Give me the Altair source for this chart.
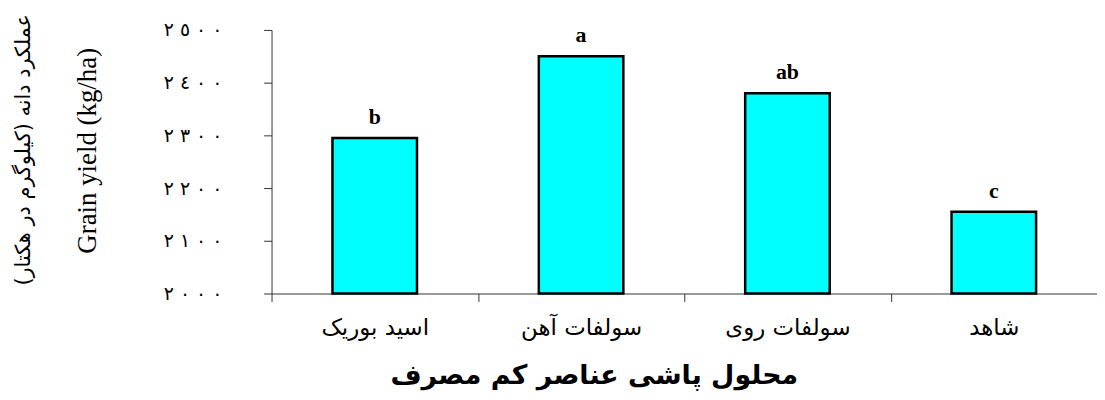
import altair as alt
import pandas as pd

treatments = ["اسید بوریک", "سولفات آهن", "سولفات روی", "شاهد"]
yields = [2295, 2450, 2380, 2155]
letters = ["b", "a", "ab", "c"]
y_ticks = [2000, 2100, 2200, 2300, 2400, 2500]
y_tick_labels = [
    "٢\u200e ٠\u200e ٠\u200e ٠",
    "٢\u200e ١\u200e ٠\u200e ٠",
    "٢\u200e ٢\u200e ٠\u200e ٠",
    "٢\u200e ٣\u200e ٠\u200e ٠",
    "٢\u200e ٤\u200e ٠\u200e ٠",
    "٢\u200e ٥\u200e ٠\u200e ٠",
]
y_base = 2000

df = pd.DataFrame({"treatment": treatments, "yield": yields, "letter": letters})

label_expr = (
    "[" + ",".join("'" + s + "'" for s in y_tick_labels) + "]"
    + "[indexof([" + ",".join(str(v) for v in y_ticks) + "], datum.value)]"
)

x_enc = alt.X(
    "treatment:N",
    sort=treatments,
    scale=alt.Scale(paddingInner=0, paddingOuter=0),
    axis=alt.Axis(
        title="محلول پاشی عناصر کم مصرف",
        labelAngle=0,
        tickBand="extent",
        tickSize=8,
        tickColor="#333333",
        domainColor="#333333",
        labelFont="DejaVu Sans",
        labelFontSize=23,
        labelColor="black",
        labelPadding=15,
        titleFont="DejaVu Sans",
        titleFontSize=27,
        titleFontWeight="bold",
        titleColor="black",
        titlePadding=24,
        titleX=324,
    ),
)

y_enc = alt.Y(
    "yield:Q",
    scale=alt.Scale(domain=[2000, 2500], nice=False, zero=False),
    axis=alt.Axis(
        title="Grain yield (kg/ha)",
        values=y_ticks,
        labelExpr=label_expr,
        tickSize=8,
        tickColor="#333333",
        domainColor="#333333",
        grid=False,
        labelFont="DejaVu Sans",
        labelFontSize=19,
        labelColor="black",
        labelPadding=42,
        titleFont="Liberation Serif",
        titleFontSize=27,
        titleFontWeight="normal",
        titleColor="black",
        titlePadding=62,
        titleY=121,
    ),
)

bars = alt.Chart(df).mark_bar(
    size=85, color="#00FFFF", stroke="black", strokeWidth=2.5
).encode(x=x_enc, y=y_enc, y2=alt.datum(y_base))

text = alt.Chart(df).mark_text(
    baseline="bottom", dy=-9, font="Liberation Serif", fontWeight="bold",
    fontSize=22, color="black"
).encode(x=alt.X("treatment:N", sort=treatments), y=alt.Y("yield:Q"), text="letter:N")

chart = alt.layer(bars, text).properties(
    width=830,
    height=265,
    title=alt.TitleParams(
        "عملکرد دانه (کیلوگرم در هکتار)",
        orient="left",
        anchor="middle",
        font="DejaVu Sans",
        fontSize=21,
        fontWeight="normal",
        color="black",
        offset=40,
        dx=12,
    ),
    padding={"left": 265, "top": 21, "right": 0, "bottom": 100},
    autosize=alt.AutoSizeParams(type="none"),
).configure_view(stroke=None)

chart.save("out.html", embed_options={"renderer": "svg", "actions": False})
